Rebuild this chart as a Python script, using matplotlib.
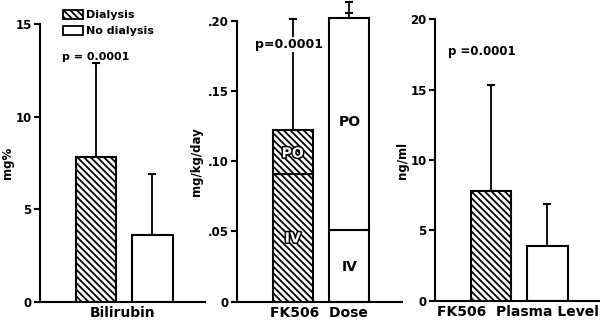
import matplotlib
matplotlib.use("Agg")
import matplotlib.pyplot as plt
import matplotlib.patheffects as pe
import matplotlib.patches as mpatches

plt.rcParams['font.family'] = ['DejaVu Sans']
plt.rcParams['font.weight'] = 'bold'
plt.rcParams['hatch.linewidth'] = 1.3

# ---- data ----
groups = ["Dialysis", "No dialysis"]
bilirubin = [7.8, 3.6]
bilirubin_err = [5.1, 3.3]
dose_iv = [0.091, 0.051]
dose_po = [0.031, 0.151]
dose_err = [0.079, 0.011]
dose_mid_cap = 0.2055
plasma = [7.8, 3.9]
plasma_err = [7.5, 3.0]
p_text = ["p = 0.0001", "p=0.0001", "p =0.0001"]
xlabels = ["Bilirubin", "FK506  Dose", "FK506  Plasma Level"]
ylabels = ["mg%", "mg/kg/day", "ng/ml"]
yticks1 = [0, 5, 10, 15]
yticks2 = [0, 0.05, 0.10, 0.15, 0.20]
yticklabels2 = ["0", ".05", ".10", ".15", ".20"]
yticks3 = [0, 5, 10, 15, 20]

W, H = 600, 322
fig = plt.figure(figsize=(6, 3.22), dpi=100)

def mkax(l, r, b, t):
    return fig.add_axes([l / W, 1 - b / H, (r - l) / W, (b - t) / H])

ax1 = mkax(40, 205, 302, 24)
ax2 = mkax(236.7, 402, 301.7, 20.7)
ax3 = mkax(435, 600, 300.7, 19.3)

x = [0, 1]
width = 0.71
HATCH = '\\\\\\\\\\'
hatches = [HATCH, None]

def style(ax):
    for s in ['top', 'right']:
        ax.spines[s].set_visible(False)
    for s in ['left', 'bottom']:
        ax.spines[s].set_linewidth(1.5)
    ax.set_xlim(-0.99, 1.93)
    ax.set_xticks([])
    ax.tick_params(axis='y', direction='out', length=4, width=1.5, labelsize=8.5, pad=2)
    for lbl in ax.get_yticklabels():
        lbl.set_fontweight('bold')

def simple_bars(ax, vals, errs):
    for i in range(2):
        ax.bar(x[i], vals[i], width, color='white', edgecolor='black', lw=1.5,
               hatch=hatches[i], zorder=2)
        ax.errorbar(x[i], vals[i], yerr=[[0], [errs[i]]], fmt='none', ecolor='black',
                    elinewidth=1.3, capsize=3, capthick=1.5, zorder=1, clip_on=False)

# Panel 1
simple_bars(ax1, bilirubin, bilirubin_err)
ax1.set_ylim(0, 15)
ax1.set_yticks(yticks1)
style(ax1)
ax1.set_ylabel(ylabels[0], fontsize=8.5, fontweight='bold', labelpad=1)
ax1.set_xlabel(xlabels[0], fontsize=10, fontweight='bold', labelpad=3)
ax1.text(-0.60, 13.2, p_text[0], fontsize=8, fontweight='bold', ha='left', va='center')
h1 = mpatches.Patch(facecolor='white', edgecolor='black', hatch=HATCH, lw=1.3)
h2 = mpatches.Patch(facecolor='white', edgecolor='black', lw=1.3)
ax1.legend([h1, h2], groups, loc='upper left', bbox_to_anchor=(0.14, 1.05),
           frameon=False, handlelength=1.8, handleheight=0.8,
           handletextpad=0.3, labelspacing=0.55, borderpad=0, borderaxespad=0,
           prop={'weight': 'bold', 'size': 8})

# Panel 2
for i in range(2):
    ax2.bar(x[i], dose_iv[i], width, color='white', edgecolor='black', lw=1.5,
            hatch=hatches[i], zorder=2, clip_on=False)
    ax2.bar(x[i], dose_po[i], width, bottom=dose_iv[i], color='white', edgecolor='black',
            lw=1.5, hatch=hatches[i], zorder=2, clip_on=False)
    top = dose_iv[i] + dose_po[i]
    ax2.errorbar(x[i], top, yerr=[[0], [dose_err[i]]], fmt='none', ecolor='black',
                 elinewidth=1.3, capsize=3, capthick=1.5, zorder=1, clip_on=False)
ax2.plot([x[1]], [dose_mid_cap], marker='_', ms=6, mew=1.5, color='black', clip_on=False)
ax2.set_ylim(0, 0.20)
ax2.set_yticks(yticks2)
ax2.set_yticklabels(yticklabels2)
style(ax2)
ax2.set_ylabel(ylabels[1], fontsize=8.5, fontweight='bold', labelpad=3)
ax2.set_xlabel(xlabels[1], fontsize=10, fontweight='bold', labelpad=3)
ax2.text(-0.06, 0.183, p_text[1], fontsize=9, fontweight='bold', ha='center', va='center',
         bbox=dict(facecolor='white', edgecolor='none', pad=0.5), zorder=3)
stroke = [pe.withStroke(linewidth=2.2, foreground='black')]
ax2.text(x[0], dose_iv[0] + dose_po[0] / 2 - 0.001, "PO", color='white', fontsize=10,
         fontweight='bold', ha='center', va='center', path_effects=stroke, zorder=4)
ax2.text(x[0], 0.045, "IV", color='white', fontsize=10, fontweight='bold',
         ha='center', va='center', path_effects=stroke, zorder=4)
ax2.text(x[1], 0.128, "PO", color='black', fontsize=10, fontweight='bold',
         ha='center', va='center', zorder=4)
ax2.text(x[1], 0.025, "IV", color='black', fontsize=10, fontweight='bold',
         ha='center', va='center', zorder=4)

# Panel 3
simple_bars(ax3, plasma, plasma_err)
ax3.set_ylim(0, 20)
ax3.set_yticks(yticks3)
style(ax3)
ax3.set_ylabel(ylabels[2], fontsize=8.5, fontweight='bold', labelpad=1)
ax3.set_xlabel(xlabels[2], fontsize=10, fontweight='bold', labelpad=3)
ax3.text(-0.76, 17.7, p_text[2], fontsize=8.5, fontweight='bold', ha='left', va='center')

fig.savefig("out.png", dpi=100)
